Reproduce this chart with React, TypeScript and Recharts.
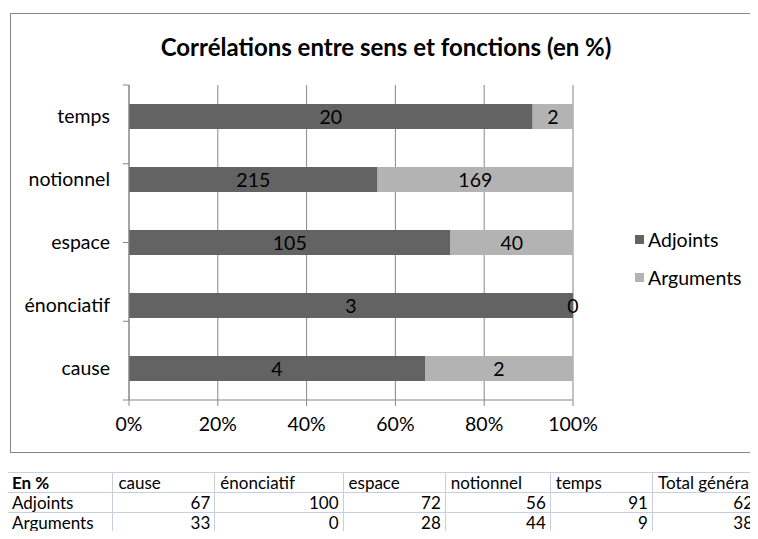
import { BarChart, Bar, XAxis, YAxis, CartesianGrid, Legend, LabelList } from 'recharts';

const categories = ['cause', 'énonciatif', 'espace', 'notionnel', 'temps'];
const adjointsCounts = [4, 3, 105, 215, 20];
const argumentsCounts = [2, 0, 40, 169, 2];
const percentTicks = [0, 0.2, 0.4, 0.6, 0.8, 1];
const categoryEdges = [0, 1, 2, 3, 4, 5];

const tableHeader = ['En %', 'cause', 'énonciatif', 'espace', 'notionnel', 'temps', 'Total général'];
const adjointsPct = [67, 100, 72, 56, 91, 62];
const argumentsPct = [33, 0, 28, 44, 9, 38];
const colWidths = [107, 104, 130, 104, 106, 104, 104];

const DARK = '#636363';
const LIGHT = '#b3b3b3';
const GRID = '#878787';
const FONT = 'Lato, "Noto Sans", sans-serif';
const LABEL_SIZE = 19.5;

const data = categories.map((sens, i) => ({
  sens,
  adjoints: adjointsCounts[i],
  arguments: argumentsCounts[i],
}));

function renderLegend(props: any) {
  const items = props.payload || [];
  return (
    <div>
      {items.map((p: any) => (
        <div key={p.value} style={{ display: 'flex', alignItems: 'center', height: 38 }}>
          <span style={{ width: 9, height: 9, background: p.color, marginRight: 4, display: 'inline-block' }} />
          <span style={{ color: '#000', fontSize: LABEL_SIZE }}>{p.value}</span>
        </div>
      ))}
    </div>
  );
}

function countText(key: string, cx: number, cy: number, value: any) {
  return (
    <text key={key} x={cx} y={cy} textAnchor="middle" dominantBaseline="central" fill="#000" fontSize={LABEL_SIZE}>
      {value}
    </text>
  );
}

// adjoints label; a zero-width "arguments" segment gets its label at the bar end
function renderAdjoints(props: any) {
  const { x, y, width, height, value, index } = props;
  const cx = Number(x) + Number(width) / 2;
  const cy = Number(y) + Number(height) / 2;
  const row = data[index];
  return (
    <g>
      {countText('a', cx, cy, value)}
      {row && row.arguments === 0 ? countText('b', Number(x) + Number(width), cy, row.arguments) : null}
    </g>
  );
}

function renderArguments(props: any) {
  const { x, y, width, height, value } = props;
  if (!Number(width)) return null;
  return countText('c', Number(x) + Number(width) / 2, Number(y) + Number(height) / 2, value);
}

const noTick = () => <g />;

export default function App() {
  const cell = {
    border: '1px solid #c5cfe0',
    height: 19,
    lineHeight: '19px',
    fontSize: 17,
    padding: '0 4px 0 5px',
    whiteSpace: 'nowrap' as const,
    overflow: 'hidden',
    fontFamily: FONT,
  };
  return (
    <div style={{ position: 'relative', width: 758, height: 539, margin: -8, overflow: 'hidden', fontFamily: FONT, background: '#fff' }}>
      <div style={{ position: 'absolute', left: 10, top: 13, width: 760, height: 438, border: '1px solid #868686' }}>
        <div style={{ position: 'absolute', left: 0, width: 750, top: 18, textAlign: 'center', fontWeight: 'bold', fontSize: 24, color: '#000' }}>
          Corrélations entre sens et fonctions (en %)
        </div>
        <BarChart
          width={747}
          height={438}
          data={data}
          layout="vertical"
          stackOffset="expand"
          margin={{ top: 71, right: 185, bottom: 0, left: 0 }}
        >
          <CartesianGrid horizontal={false} stroke={GRID} />
          <XAxis
            type="number"
            domain={[0, 1]}
            ticks={percentTicks}
            tickFormatter={(v: number) => `${Math.round(v * 100)}%`}
            tick={{ fill: '#000', fontSize: LABEL_SIZE }}
            tickSize={6}
            tickMargin={11}
            stroke={GRID}
            height={52}
          />
          <YAxis
            yAxisId={0}
            type="category"
            dataKey="sens"
            reversed
            width={118}
            tickLine={false}
            tickSize={6}
            tickMargin={13}
            tick={{ fill: '#000', fontSize: LABEL_SIZE }}
            stroke={GRID}
          />
          <YAxis
            yAxisId="edges"
            type="number"
            domain={[0, 5]}
            ticks={categoryEdges}
            allowDataOverflow
            mirror
            width={6}
            tick={noTick}
            tickSize={-6}
            axisLine={false}
            stroke={GRID}
          />
          <Legend
            layout="vertical"
            align="center"
            verticalAlign="middle"
            content={renderLegend}
            wrapperStyle={{ left: 624, top: 206, width: 'auto', fontFamily: FONT }}
          />
          <Bar dataKey="adjoints" name="Adjoints" stackId="a" fill={DARK} barSize={25} isAnimationActive={false}>
            <LabelList dataKey="adjoints" content={renderAdjoints} />
          </Bar>
          <Bar dataKey="arguments" name="Arguments" stackId="a" fill={LIGHT} barSize={25} isAnimationActive={false}>
            <LabelList dataKey="arguments" content={renderArguments} />
          </Bar>
        </BarChart>
      </div>
      <table style={{ position: 'absolute', left: 6, top: 472, borderCollapse: 'collapse', tableLayout: 'fixed', fontSize: 17, color: '#000', fontFamily: FONT }}>
        <colgroup>
          {colWidths.map((w, i) => (
            <col key={i} style={{ width: w }} />
          ))}
        </colgroup>
        <tbody>
          <tr>
            {tableHeader.map((h, i) => (
              <td key={h} style={{ ...cell, fontWeight: i === 0 ? 'bold' : 'normal', textAlign: 'left' }}>{h}</td>
            ))}
          </tr>
          <tr>
            <td style={{ ...cell, textAlign: 'left' }}>Adjoints</td>
            {adjointsPct.map((v, i) => (
              <td key={i} style={{ ...cell, textAlign: 'right' }}>{v}</td>
            ))}
          </tr>
          <tr>
            <td style={{ ...cell, textAlign: 'left' }}>Arguments</td>
            {argumentsPct.map((v, i) => (
              <td key={i} style={{ ...cell, textAlign: 'right' }}>{v}</td>
            ))}
          </tr>
        </tbody>
      </table>
    </div>
  );
}
